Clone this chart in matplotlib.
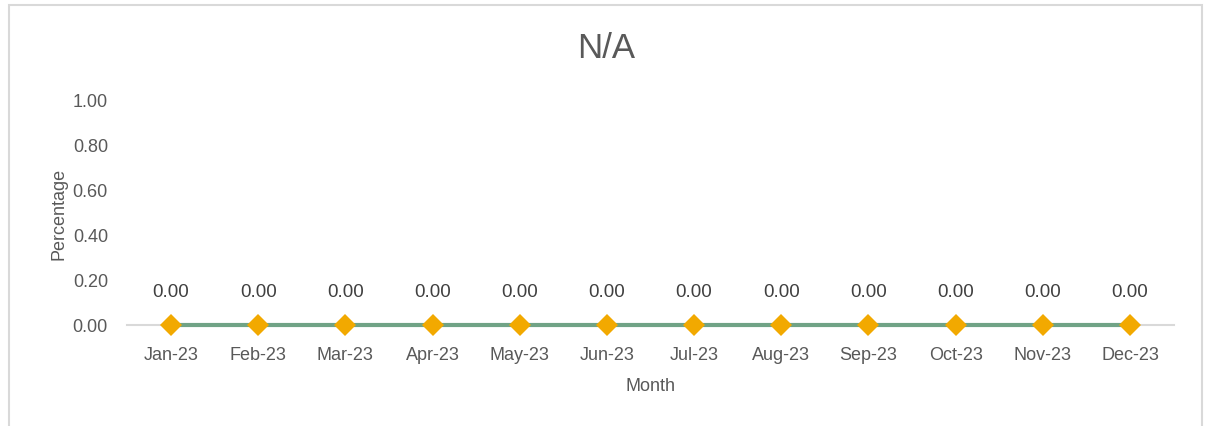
import matplotlib
matplotlib.use("Agg")
import matplotlib.pyplot as plt
from matplotlib.patches import Rectangle

# chart data
months = ["Jan-23", "Feb-23", "Mar-23", "Apr-23", "May-23", "Jun-23",
          "Jul-23", "Aug-23", "Sep-23", "Oct-23", "Nov-23", "Dec-23"]
values = [0.00, 0.00, 0.00, 0.00, 0.00, 0.00, 0.00, 0.00, 0.00, 0.00, 0.00, 0.00]
yticks = [0.00, 0.20, 0.40, 0.60, 0.80, 1.00]

plt.rcParams['font.family'] = ['Liberation Sans', 'DejaVu Sans']
txt_color = "#595959"

fig = plt.figure(figsize=(12.05, 4.27), dpi=100)
# outer chart border
fig.patches.append(Rectangle((9 / 1205, -0.05), 1193 / 1205, 1 - 6 / 427 + 0.05,
                             transform=fig.transFigure, fill=False,
                             edgecolor="#D9D9D9", linewidth=1.5))

ax = fig.add_axes([127.4 / 1205, 1 - 326 / 427, (1173.6 - 127.4) / 1205, 225 / 427])
x = list(range(len(months)))
ax.plot(x, values, color="#70A386", linewidth=3, zorder=3, clip_on=False)
ax.plot(x, values, linestyle="none", marker="D", markersize=11,
        color="#F2A900", markeredgewidth=0, zorder=4, clip_on=False)

for xi, v in zip(x, values):
    ax.annotate(f"{v:.2f}", (xi, v), xytext=(0, 18), textcoords="offset points",
                ha="center", va="bottom", fontsize=13.5, color="#404040")

ax.set_xlim(-0.5, len(months) - 0.5)
ax.set_ylim(0, 1)
ax.set_xticks(x)
ax.set_xticklabels(months)
ax.set_yticks(yticks)
ax.set_yticklabels([f"{t:.2f}" for t in yticks])
ax.tick_params(axis="both", length=0, labelsize=13, colors=txt_color)
ax.tick_params(axis="x", pad=15)
ax.tick_params(axis="y", pad=14)

for side in ["top", "right", "left"]:
    ax.spines[side].set_visible(False)
ax.spines["bottom"].set_color("#D9D9D9")
ax.spines["bottom"].set_linewidth(1.5)
ax.spines["bottom"].set_zorder(1)

ax.set_xlabel("Month", fontsize=13, color=txt_color, labelpad=10)
ax.set_ylabel("Percentage", fontsize=13, color=txt_color, labelpad=4)

fig.text(606 / 1205, 1 - 48 / 427, "N/A", ha="center", va="center",
         fontsize=25, color=txt_color)

fig.savefig("out.png", dpi=100)
